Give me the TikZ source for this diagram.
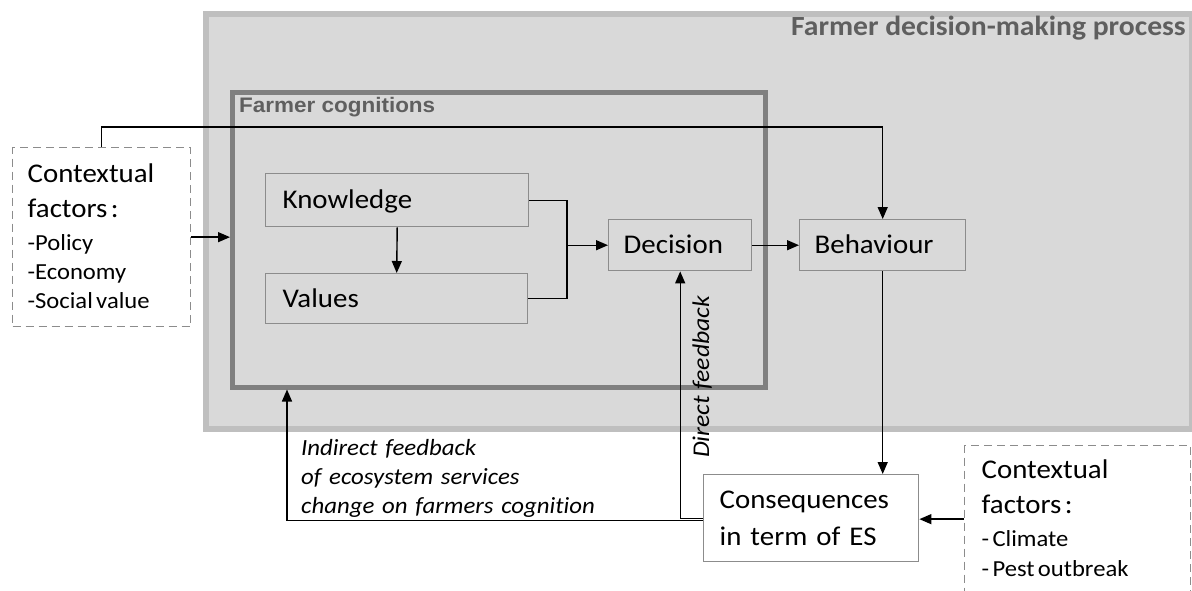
\documentclass[tikz,border=0pt]{standalone}
\usepackage{fontspec}
\setmainfont{Carlito}[FakeStretch=1.07,Ligatures=NoCommon]
\newfontfamily\arialf{Liberation Sans}[FakeStretch=1.07]
\usetikzlibrary{arrows.meta}
\definecolor{procfill}{HTML}{D9D9D9}
\definecolor{procline}{HTML}{BFBFBF}
\definecolor{cogline}{HTML}{808080}
\definecolor{boxline}{HTML}{8C8C8C}
\definecolor{titlegray}{HTML}{5F5F5F}
\begin{document}
\begin{tikzpicture}[x=1pt,y=-1pt,
  boxtxt/.style={font=\fontsize{27}{33}\selectfont, text height=20pt, text depth=3pt},
  stepbox/.style={draw=boxline, line width=1.4pt, anchor=north west, inner ysep=0pt, align=left, boxtxt},
  ctxbox/.style={draw=boxline, line width=1.3pt, dash pattern=on 8pt off 5pt, fill=white, anchor=north west, inner ysep=0pt, align=left, text height=17pt},
  arr/.style={line width=1.4pt, -{Triangle[length=12pt,width=10pt]}},
  ln/.style={line width=1.4pt},
  fbtxt/.style={font=\itshape\fontsize{23.2}{29}\selectfont}
]
\useasboundingbox (0,0) rectangle (1192,590);

% outer process frame
\node[draw=procline, fill=procfill, line width=6pt, minimum width=986pt, minimum height=415pt, anchor=north west, inner sep=0pt] (proc) at (203,11) {};
\node[anchor=base east, text=titlegray, font=\bfseries\fontsize{27.7}{30}\selectfont, inner sep=0pt] (proct) at (1186,35) {Farmer decision-making process};

% cognitions frame
\node[draw=cogline, line width=4.5pt, minimum width=533pt, minimum height=295pt, anchor=north west, inner sep=0pt] (cog) at (230,90) {};
\node[anchor=base west, text=titlegray, font=\arialf\bfseries\fontsize{21}{24}\selectfont, inner sep=0pt] (cogt) at (239,112) {Farmer cognitions};

% boxes
\node[stepbox, minimum width=263pt, minimum height=53pt, text width=229pt, inner xsep=17pt] (know) at (265,173) {Knowledge};
\node[stepbox, minimum width=262pt, minimum height=50pt, text width=228pt, inner xsep=17pt] (vals) at (265,273) {Values};
\node[stepbox, minimum width=143pt, minimum height=51pt, text width=113pt, inner xsep=15pt] (dec) at (608,219) {Decision};
\node[stepbox, minimum width=166pt, minimum height=51pt, text width=136pt, inner xsep=15pt] (behav) at (799,219) {Behaviour};
\node[stepbox, fill=white, minimum width=215pt, minimum height=87pt, text width=183pt, inner xsep=16pt, font=\fontsize{27}{37}\selectfont, text height=17pt, text depth=37pt] (cons) at (703,474) {Consequences\\in term of ES};

\node[ctxbox, minimum width=178pt, minimum height=179pt, text width=148pt, inner xsep=15pt, text depth=126pt] (ctxL) at (12,147)
  {{\fontsize{27}{35}\selectfont Contextual\\factors :\par}\vskip4pt{\fontsize{23}{29}\selectfont -Policy\\-Economy\\-Social value\par}};
\node[ctxbox, minimum width=226pt, minimum height=147pt, text width=192pt, inner xsep=17pt, text depth=98pt] (ctxR) at (964,445)
  {{\fontsize{27}{35}\selectfont Contextual\\factors :\par}\vskip3pt{\fontsize{23}{30}\selectfont - Climate\\- Pest outbreak\par}};

% connectors
\coordinate (jn) at (567,0);
\coordinate (indx) at (287,0);
\draw[arr] (ctxL.north) -- ++(0,-20) -| (behav.north);
\draw[arr] (ctxL.east) -- (ctxL.east -| cog.west);
\draw[arr] (know.south) -- (vals.north);
\draw[ln] (know.east) -| (jn |- dec.west);
\draw[ln] (vals.east) -| (jn |- dec.west);
\draw[arr] (jn |- dec.west) -- (dec.west);
\draw[arr] (dec.east) -- (behav.west);
\draw[arr] (behav.south) -- (behav.south |- cons.north);
\draw[arr] (ctxR.west) -- (ctxR.west -| cons.east);
\draw[arr] (cons.west) -| (dec.south);
\draw[arr] ([yshift=-2.5pt]cons.west) -| (indx |- cog.south);

% feedback labels
\node[fbtxt, rotate=90, anchor=base west, inner sep=0pt, font=\itshape\fontsize{24}{29}\selectfont] (dfb) at (709,458) {Direct feedback};
\node[fbtxt, anchor=north west, inner sep=0pt, text width=330pt, align=left, text height=15pt] (ifb) at (301,440)
  {Indirect feedback\\of ecosystem services\\change on farmers cognition};
\end{tikzpicture}
\end{document}
